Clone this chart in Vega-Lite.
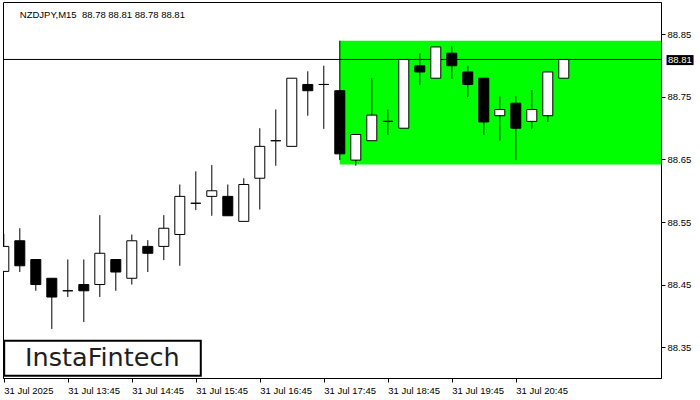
{
  "$schema": "https://vega.github.io/schema/vega-lite/v6.json",
  "width": 658,
  "height": 376,
  "padding": {"left": 2, "top": 2, "right": 0, "bottom": 0},
  "background": "white",
  "config": {
    "view": {"stroke": "black", "strokeWidth": 1},
    "axis": {"domainColor": "black", "tickColor": "black", "labelColor": "black", "labelFont": "Liberation Sans", "labelFontSize": 9.5, "grid": false, "title": null}
  },
  "datasets": {
    "candles": [
      {"t":"2025-07-31T12:45:00Z","open":88.471,"high":88.531,"low":88.470,"close":88.511},
      {"t":"2025-07-31T13:00:00Z","open":88.520,"high":88.540,"low":88.470,"close":88.480},
      {"t":"2025-07-31T13:15:00Z","open":88.490,"high":88.490,"low":88.440,"close":88.450},
      {"t":"2025-07-31T13:30:00Z","open":88.460,"high":88.460,"low":88.379,"close":88.430},
      {"t":"2025-07-31T13:45:00Z","open":88.440,"high":88.490,"low":88.430,"close":88.440},
      {"t":"2025-07-31T14:00:00Z","open":88.450,"high":88.490,"low":88.390,"close":88.440},
      {"t":"2025-07-31T14:15:00Z","open":88.450,"high":88.561,"low":88.430,"close":88.500},
      {"t":"2025-07-31T14:30:00Z","open":88.490,"high":88.490,"low":88.440,"close":88.470},
      {"t":"2025-07-31T14:45:00Z","open":88.460,"high":88.530,"low":88.450,"close":88.520},
      {"t":"2025-07-31T15:00:00Z","open":88.511,"high":88.521,"low":88.470,"close":88.500},
      {"t":"2025-07-31T15:15:00Z","open":88.511,"high":88.561,"low":88.489,"close":88.540},
      {"t":"2025-07-31T15:30:00Z","open":88.530,"high":88.610,"low":88.480,"close":88.591},
      {"t":"2025-07-31T15:45:00Z","open":88.580,"high":88.631,"low":88.569,"close":88.580},
      {"t":"2025-07-31T16:00:00Z","open":88.591,"high":88.641,"low":88.560,"close":88.600},
      {"t":"2025-07-31T16:15:00Z","open":88.591,"high":88.610,"low":88.560,"close":88.560},
      {"t":"2025-07-31T16:30:00Z","open":88.551,"high":88.620,"low":88.551,"close":88.610},
      {"t":"2025-07-31T16:45:00Z","open":88.620,"high":88.700,"low":88.570,"close":88.671},
      {"t":"2025-07-31T17:00:00Z","open":88.680,"high":88.730,"low":88.640,"close":88.680},
      {"t":"2025-07-31T17:15:00Z","open":88.671,"high":88.780,"low":88.671,"close":88.780},
      {"t":"2025-07-31T17:30:00Z","open":88.770,"high":88.791,"low":88.720,"close":88.760},
      {"t":"2025-07-31T17:45:00Z","open":88.770,"high":88.800,"low":88.699,"close":88.770},
      {"t":"2025-07-31T18:00:00Z","open":88.760,"high":88.840,"low":88.649,"close":88.659},
      {"t":"2025-07-31T18:15:00Z","open":88.649,"high":88.690,"low":88.640,"close":88.690},
      {"t":"2025-07-31T18:30:00Z","open":88.680,"high":88.780,"low":88.680,"close":88.721},
      {"t":"2025-07-31T18:45:00Z","open":88.711,"high":88.730,"low":88.689,"close":88.711},
      {"t":"2025-07-31T19:00:00Z","open":88.700,"high":88.810,"low":88.700,"close":88.810},
      {"t":"2025-07-31T19:15:00Z","open":88.800,"high":88.820,"low":88.769,"close":88.790},
      {"t":"2025-07-31T19:30:00Z","open":88.780,"high":88.830,"low":88.780,"close":88.830},
      {"t":"2025-07-31T19:45:00Z","open":88.820,"high":88.831,"low":88.779,"close":88.800},
      {"t":"2025-07-31T20:00:00Z","open":88.790,"high":88.800,"low":88.750,"close":88.770},
      {"t":"2025-07-31T20:15:00Z","open":88.780,"high":88.780,"low":88.689,"close":88.710},
      {"t":"2025-07-31T20:30:00Z","open":88.720,"high":88.751,"low":88.680,"close":88.730},
      {"t":"2025-07-31T20:45:00Z","open":88.740,"high":88.751,"low":88.649,"close":88.700},
      {"t":"2025-07-31T21:00:00Z","open":88.711,"high":88.761,"low":88.699,"close":88.730},
      {"t":"2025-07-31T21:15:00Z","open":88.720,"high":88.790,"low":88.710,"close":88.790},
      {"t":"2025-07-31T21:30:00Z","open":88.780,"high":88.810,"low":88.780,"close":88.810}
    ],
    "zone": [
      {"start":"2025-07-31T18:00:00Z","top":88.840,"bottom":88.642}
    ],
    "one": [{}]
  },
  "layer": [
    {
      "data": {"name": "zone"},
      "mark": {"type": "rect", "color": "#00ff00", "clip": true},
      "encoding": {
        "x": {"field": "start", "type": "temporal",
          "scale": {"type": "utc", "nice": false, "padding": 0, "domain": [
            {"year":2025,"month":7,"date":31,"hours":12,"minutes":44,"seconds":15,"utc":true},
            {"year":2025,"month":7,"date":31,"hours":23,"minutes":1,"seconds":8,"utc":true}]},
          "axis": {"orient": "bottom", "values": [
            {"year":2025,"month":7,"date":31,"hours":12,"minutes":45,"utc":true},
            {"year":2025,"month":7,"date":31,"hours":13,"minutes":45,"utc":true},
            {"year":2025,"month":7,"date":31,"hours":14,"minutes":45,"utc":true},
            {"year":2025,"month":7,"date":31,"hours":15,"minutes":45,"utc":true},
            {"year":2025,"month":7,"date":31,"hours":16,"minutes":45,"utc":true},
            {"year":2025,"month":7,"date":31,"hours":17,"minutes":45,"utc":true},
            {"year":2025,"month":7,"date":31,"hours":18,"minutes":45,"utc":true},
            {"year":2025,"month":7,"date":31,"hours":19,"minutes":45,"utc":true},
            {"year":2025,"month":7,"date":31,"hours":20,"minutes":45,"utc":true}],
            "labelExpr": "utcFormat(datum.value, '%H:%M') == '12:45' ? '31 Jul 2025' : utcFormat(datum.value, '%d %b %H:%M')",
            "labelAlign": "left", "labelPadding": 3, "tickSize": 4, "labelOverlap": false, "labelFlush": false}},
        "x2": {"datum": {"year":2025,"month":7,"date":31,"hours":23,"minutes":1,"seconds":8,"utc":true}},
        "y": {"field": "top", "type": "quantitative",
          "scale": {"domain": [88.3005, 88.9019], "nice": false, "zero": false, "padding": 0},
          "axis": {"orient": "right", "values": [88.35, 88.45, 88.55, 88.65, 88.75, 88.85], "format": ".2f", "tickSize": 4, "labelPadding": 2}},
        "y2": {"field": "bottom"}
      }
    },
    {
      "data": {"name": "one"},
      "mark": {"type": "rule", "color": "black", "strokeWidth": 1},
      "encoding": {
        "y": {"datum": 88.81, "type": "quantitative"}
      }
    },
    {
      "data": {"name": "candles"},
      "mark": {"type": "rule", "color": "black", "strokeWidth": 1, "clip": true},
      "encoding": {
        "x": {"field": "t", "type": "temporal"},
        "y": {"field": "low", "type": "quantitative"},
        "y2": {"field": "high"}
      }
    },
    {
      "data": {"name": "candles"},
      "mark": {"type": "bar", "size": 10, "stroke": "black", "strokeWidth": 1, "clip": true},
      "encoding": {
        "x": {"field": "t", "type": "temporal"},
        "y": {"field": "open", "type": "quantitative"},
        "y2": {"field": "close"},
        "fill": {"condition": {"test": "datum.open > datum.close", "value": "black"}, "value": "white"}
      }
    },
    {
      "data": {"name": "one"},
      "mark": {"type": "text", "color": "black", "font": "Liberation Sans", "fontSize": 9.5, "align": "left", "baseline": "alphabetic"},
      "encoding": {
        "x": {"datum": {"year":2025,"month":7,"date":31,"hours":13,"minutes":0,"seconds":0,"utc":true}, "type": "temporal"},
        "y": {"datum": 88.8766, "type": "quantitative"},
        "text": {"value": "NZDJPY,M15\u00a0\u00a088.78 88.81 88.78 88.81"}
      }
    },
    {
      "data": {"name": "one"},
      "mark": {"type": "rect", "fill": "black"},
      "encoding": {
        "x": {"datum": {"year":2025,"month":7,"date":31,"hours":23,"minutes":6,"seconds":20,"utc":true}, "type": "temporal"},
        "x2": {"datum": {"year":2025,"month":7,"date":31,"hours":23,"minutes":31,"seconds":40,"utc":true}},
        "y": {"datum": 88.801, "type": "quantitative"},
        "y2": {"datum": 88.817}
      }
    },
    {
      "data": {"name": "one"},
      "mark": {"type": "text", "color": "white", "font": "Liberation Sans", "fontSize": 9.5, "align": "left", "baseline": "middle"},
      "encoding": {
        "x": {"datum": {"year":2025,"month":7,"date":31,"hours":23,"minutes":7,"seconds":40,"utc":true}, "type": "temporal"},
        "y": {"datum": 88.8095, "type": "quantitative"},
        "text": {"value": "88.81"}
      }
    },
    {
      "data": {"name": "one"},
      "mark": {"type": "rect", "fill": "white", "stroke": "black", "strokeWidth": 2},
      "encoding": {
        "x": {"datum": {"year":2025,"month":7,"date":31,"hours":12,"minutes":45,"seconds":22,"utc":true}, "type": "temporal"},
        "x2": {"datum": {"year":2025,"month":7,"date":31,"hours":15,"minutes":49,"seconds":41,"utc":true}},
        "y": {"datum": 88.3042, "type": "quantitative"},
        "y2": {"datum": 88.3601}
      }
    },
    {
      "data": {"name": "one"},
      "mark": {"type": "text", "color": "#1e1e1e", "font": "DejaVu Sans", "fontSize": 25.5, "align": "center", "baseline": "middle"},
      "encoding": {
        "x": {"datum": {"year":2025,"month":7,"date":31,"hours":14,"minutes":17,"seconds":24,"utc":true}, "type": "temporal"},
        "y": {"datum": 88.3317, "type": "quantitative"},
        "text": {"value": "InstaFintech"}
      }
    }
  ]
}
